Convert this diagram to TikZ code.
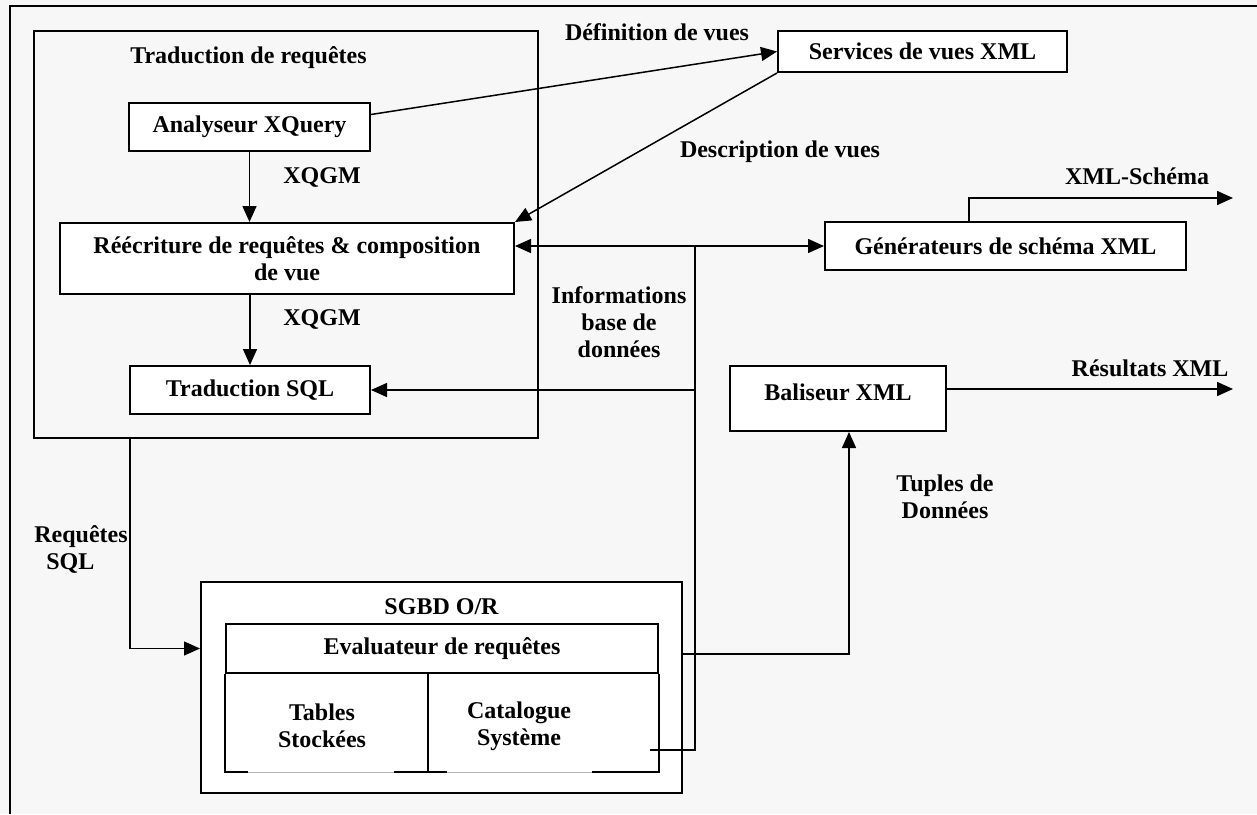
\documentclass[tikz,border=0pt]{standalone}
\usepackage{fontspec}
\setmainfont{Liberation Serif}
\usetikzlibrary{arrows.meta,calc,positioning}
\definecolor{paper}{HTML}{F7F7F7}

\begin{document}
\begin{tikzpicture}[
  x=0.5pt, y=-0.5pt,
  >={Triangle[length=8pt,width=7pt]},
  font=\bfseries\fontsize{12}{13.5}\selectfont,
  box/.style={draw=black, line width=1pt, fill=white, inner sep=0pt, align=center},
  conn/.style={draw=black, line width=0.75pt},
  lbl/.style={align=center, inner sep=0pt}
]

% page and frame
\fill[paper] (0,0) rectangle (1257,814);
\useasboundingbox (0,0) rectangle (1257,814);
\draw[line width=1pt] (10,814) -- (10,6) -- (1257,6);

% query translation block
\node[draw, line width=1pt, inner sep=0pt, minimum width=252pt, minimum height=203.5pt] (trad) at (286,234.5) {};
\node[lbl] at (248.5,58) {Traduction de requêtes};
\node[box, minimum width=120.5pt, minimum height=24pt] (analyseur) at (249.5,127) {Analyseur XQuery};
\node[box, minimum width=227pt, minimum height=35.5pt] (reecriture) at (287,258.5) {Réécriture de requêtes \& composition\\de vue};
\node[box, minimum width=120pt, minimum height=24pt] (tradsql) at (250,390) {Traduction SQL};

% view services, schema and tagging
\node[box, minimum width=144.5pt, minimum height=20.5pt] (services) at (922.5,51.5) {Services de vues XML};
\node[box, minimum width=180.5pt, minimum height=24pt] (generateurs) at (1005.5,246) {Générateurs de schéma XML};
\node[box, minimum width=108pt, minimum height=32.5pt] (baliseur) at (838,398.5) {};
\node[lbl] at (838,392) {Baliseur XML};

% O/R database
\node[box, minimum width=240.5pt, minimum height=105.5pt] (sgbd) at (441.5,687.5) {};
\node[lbl] at (441.5,607) {SGBD O/R};
\node[box, minimum width=216pt, minimum height=24.5pt] (evaluateur) at (442,648.5) {Evaluateur de requêtes};
\node[lbl] (tables) at (322,726) {Tables\\Stockées};
\node[lbl] (catalogue) at (519,726) {Catalogue\\Système};
\draw[gray!60, line width=0.4pt] (evaluateur.west |- 0,772) -- (evaluateur.east |- 0,772);
\draw[line width=1pt] (248,772) -| (evaluateur.south west);
\draw[line width=1pt] (592,772) -| (evaluateur.south east);
\draw[line width=1pt] (394,772) -- (447,772);
\draw[line width=1pt] (evaluateur.south -| 428,0) -- (428,772);

% view definition / description
\draw[conn,->] ($(analyseur.north east)!0.25!(analyseur.south east)$) -- (services.west);
\node[lbl] at (657,32) {Définition de vues};
\draw[conn,->] (services.south west) -- (reecriture.north east);
\node[lbl] at (780,152) {Description de vues};

% XQGM flow
\draw[conn,->] (analyseur) -- (reecriture.north -| analyseur);
\node[lbl] at (322,177) {XQGM};
\draw[conn,->] (reecriture.south -| tradsql) -- (tradsql);
\node[lbl] at (322,319) {XQGM};

% database information bus
\coordinate (dbtap) at (695,246);
\coordinate (catout) at (650,750);
\draw[conn,<->] (reecriture.east |- generateurs.west) -- (generateurs.west);
\draw[conn] (catout) -| (dbtap);
\draw[conn,->] (dbtap |- tradsql.east) -- (tradsql.east);
\node[lbl] at (619,322) {Informations\\base de\\données};

% SQL queries and result tuples
\draw[conn,->] ([xshift=48.5pt]trad.south west) |- (sgbd.west |- evaluateur);
\node[lbl, align=left, anchor=west] at (34,549) {Requêtes\\\hspace*{6pt}SQL};
\draw[conn,->] ([yshift=16.75pt]sgbd.east) -| ([xshift=5.5pt]baliseur.south);
\node[lbl] at (945,497) {Tuples de\\Données};

% outputs
\coordinate (schemaout) at (1233,198);
\draw[conn,->] ([xshift=-18.25pt]generateurs.north) |- (schemaout);
\node[lbl] at (1137,176) {XML-Schéma};
\coordinate (resout) at (1233,389);
\draw[conn,->] ([yshift=4.75pt]baliseur.east) -- (resout);
\node[lbl] at (1150,368) {Résultats XML};

\end{tikzpicture}
\end{document}
